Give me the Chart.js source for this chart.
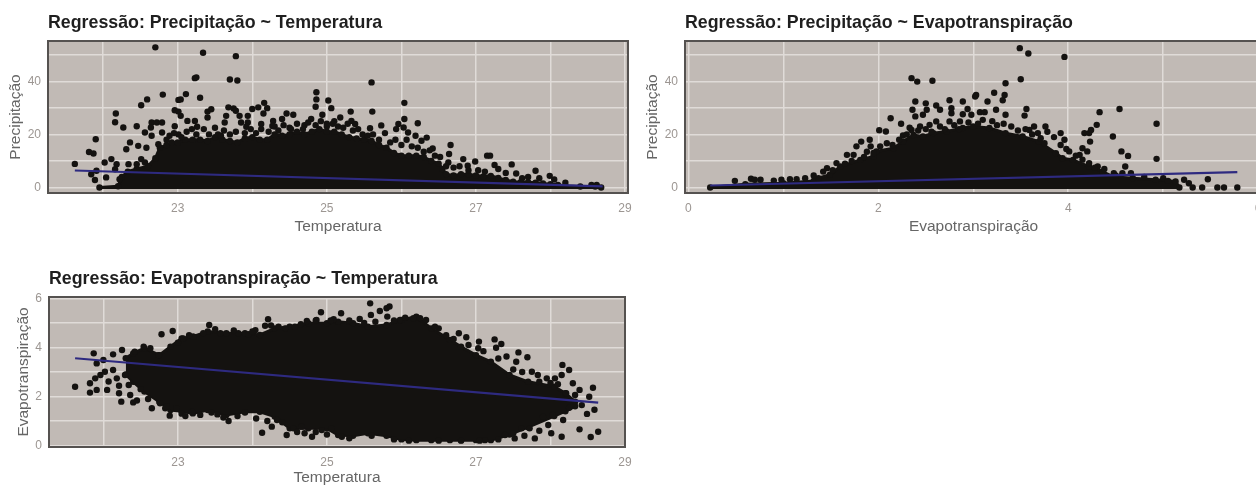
<!DOCTYPE html>
<html lang="pt">
<head>
    <meta charset="UTF-8">
    <title>Regressões</title>
    <script src="https://cdn.jsdelivr.net/npm/chart.js"></script>
    <style>
        html, body { margin: 0; background: #fff; overflow: hidden; width: 1256px; height: 487px; }
        .painel { position: absolute; filter: blur(0.45px); }
    </style>
</head>
<body>
    <div class="painel" style="left:0;top:0;width:640px;height:236px"><canvas id="precipTemp"></canvas></div>
    <div class="painel" style="left:640px;top:0;width:640px;height:236px"><canvas id="precipEvap"></canvas></div>
    <div class="painel" style="left:0;top:256px;width:640px;height:231px"><canvas id="evapTemp"></canvas></div>
    <script>
        // eixos
        const tempTicks = [22, 23, 24, 25, 26, 27, 28, 29];
        const tempLabels = [23, 25, 27, 29];
        const evapTicks = [0, 1, 2, 3, 4, 5, 6];
        const evapLabels = [0, 2, 4, 6];
        const precipTicks = [0, 10, 20, 30, 40, 50];
        const precipLabels = [0, 20, 40];
        const evapYTicks = [0, 1, 2, 3, 4, 5, 6];
        const evapYLabels = [0, 2, 4, 6];

        // Precipitação ~ Temperatura: pontos soltos
        const pt_x = [22.70,23.34,23.78,23.23,23.25,23.70,23.80,22.80,23.11,23.30,23.01,23.04,22.59,22.51,22.17,22.16,22.27,22.45,21.90,21.81,21.87,21.62,22.96,23.01,23.04,23.40,23.45,23.40,23.13,23.23,23.26,22.96,22.65,22.72,22.79,22.64,22.56,22.65,23.68,23.75,23.65,23.63,23.78,23.83,23.85,23.94,23.94,23.92,24.00,24.08,24.16,24.20,24.15,24.28,24.12,24.46,24.55,24.40,24.86,24.86,24.85,25.02,25.06,24.94,24.79,25.18,25.60,26.04,25.32,25.61,26.04,26.22,25.58,25.73,25.96,25.93,26.03,25.33,25.38,26.09,26.19,26.34,26.27,26.66,26.64,26.42,27.15,27.19,26.99,27.48,27.54,27.80,27.99,26.83,26.63,26.89,27.25,21.84,21.91,21.89,22.04,22.02,22.11,22.18,22.16,22.22,22.34,22.45,22.51,22.56,22.31,22.36,22.47,22.58,22.74,22.79,22.89,23.01,23.19,23.54,24.30,24.50,24.70,25.00,25.10,
            22.85,22.95,23.05,23.12,23.25,23.35,23.42,23.50,23.58,23.62,23.70,23.78,23.90,23.98,24.05,24.12,24.22,24.27,24.35,24.42,24.52,24.60,24.68,24.75,24.85,24.92,25.00,25.08,25.15,25.22,25.28,25.35,25.42,25.48,25.55,25.62,25.70,25.78,25.85,25.92,26.00,26.07,26.14,26.22,26.30,26.38,26.45,26.52,26.60,26.70,26.78,26.90,27.03,27.12,27.30,27.40,27.62,27.70,27.85,28.05,28.20,28.55,28.62];
        const pt_y = [52.8,50.8,49.5,41.2,41.5,40.7,40.3,35.0,35.2,33.8,33.0,33.2,33.2,31.0,27.9,24.6,22.6,23.1,18.2,13.4,12.8,8.9,29.1,28.6,27.0,28.6,29.5,26.4,25.1,25.1,22.9,23.1,24.5,24.5,24.5,22.6,20.7,19.5,30.2,29.8,27.0,24.5,28.9,27.0,24.5,27.0,24.5,22.9,29.6,30.2,31.9,29.9,27.9,25.1,23.9,27.9,27.4,25.8,35.9,33.2,30.4,32.8,29.9,27.4,25.8,26.4,39.6,31.9,28.6,28.6,25.8,24.2,22.3,23.4,23.9,22.0,22.6,25.1,23.9,20.7,19.5,18.8,17.6,16.0,12.6,14.7,12.0,12.0,9.8,8.7,5.3,6.3,4.4,10.7,9.4,8.2,8.5,5.0,6.3,2.8,3.8,9.4,10.7,8.8,6.9,3.1,8.8,8.8,10.7,9.4,14.4,17.0,15.7,15.0,16.3,20.7,19.5,20.0,22.0,20.0,23.0,22.5,23.5,24.0,25.0,
            18,20.5,19,21,20,22,20,22.5,19.5,21.5,20,21,20.5,22,20.5,22,21,23.2,21.5,23.5,22,24,22,24.5,23.5,25,23,24,23,22.5,24,21.5,22,20,19.5,20,18,20.5,17,18,16,18,15.5,15,13.5,14,12,11.5,8,7.5,8,6.5,6.5,6,7,5.5,3.5,4,3.5,3,1.8,1,1];
        // parte densa da nuvem: contorno superior
        const ptNuvem_x = [21.95,22.20,22.25,22.33,22.45,22.60,22.70,22.76,22.85,22.92,23.00,23.10,23.20,23.30,23.40,23.50,23.60,23.70,23.80,23.90,24.00,24.10,24.20,24.30,24.40,24.50,24.60,24.70,24.80,24.90,25.00,25.10,25.20,25.30,25.40,25.50,25.60,25.70,25.80,25.90,26.00,26.10,26.20,26.30,26.40,26.50,26.55,26.60,26.70,26.80,26.90,27.00,27.10,27.20,27.30,27.40,27.50,27.60,27.70,27.80,27.90,28.00,28.10,28.20,28.40,28.60,28.68];
        const ptNuvem_y = [0,0.5,4,6,7,8,11,15,16,17,17,18,18,18,17.5,19,18,17.5,17,18.5,19,18,18,20,19.5,20,21,20,21,22,21,21,20,19,18.5,18,17.5,16,15,13,12,12,12,11.5,10,9,7,5,4.5,5,5,4.5,4.2,4.4,3.6,2.8,2.2,2,2,1.8,1.5,1.2,1,0.6,0.4,0.4,0];
        const ptReta_x = [21.62, 28.70];
        const ptReta_y = [6.4, 0.4];

        // Precipitação ~ Evapotranspiração
        const pe_x = [2.35,2.41,2.57,2.39,2.50,2.61,2.75,2.89,3.02,3.03,2.36,2.39,2.47,2.51,2.65,2.77,2.77,2.94,2.98,2.89,2.13,2.24,2.01,2.08,1.91,1.92,1.82,1.77,1.67,1.74,2.09,2.02,2.26,2.61,2.54,2.75,2.86,2.44,2.35,1.46,1.42,1.56,0.49,0.66,0.70,0.76,0.90,0.98,1.07,1.14,1.23,1.32,3.49,3.58,3.96,3.50,3.34,3.22,3.33,3.31,3.15,3.56,3.54,3.07,3.12,3.24,3.34,4.33,4.54,4.30,4.93,4.47,4.56,4.63,4.93,4.60,4.22,4.17,4.24,4.23,4.15,4.20,3.92,3.96,3.76,3.64,3.59,3.71,3.75,4.01,4.12,4.22,4.31,4.48,4.57,4.66,5.22,5.27,5.31,5.41,5.47,5.57,5.64,5.78,
            2.15,2.22,2.30,2.33,2.42,2.50,2.56,2.65,2.70,2.80,2.85,2.95,3.05,3.10,3.20,3.25,3.32,3.40,3.47,3.55,3.62,3.68,3.78,3.85,3.92,3.98,4.08,4.15,4.28,4.38,4.50,4.80,5.00,5.05,1.85,1.72,1.65,1.52,1.95,1.88];
        const pe_y = [41.2,39.9,40.2,32.4,31.7,30.9,32.9,32.4,34.3,34.9,29.3,26.8,27.4,29.3,29.3,29.9,28.0,29.6,27.4,27.6,26.1,24.0,21.6,21.1,18.0,15.5,17.3,15.5,12.3,12.3,16.7,15.5,19.6,24.9,23.6,24.9,24.9,23.0,21.7,7.3,6.0,9.2,2.5,3.3,2.9,2.9,2.6,2.9,3.1,3.1,3.5,4.5,52.5,50.5,49.2,40.8,39.3,35.7,34.9,32.9,32.4,29.6,27.1,28.4,28.4,29.3,27.4,28.4,29.6,23.6,24.0,19.2,13.6,11.9,10.8,7.9,20.5,20.5,21.7,17.3,14.8,13.6,20.5,18.0,23.0,23.0,21.7,18.6,16.7,13.6,12.3,9.2,7.9,5.4,5.4,5.4,2.9,1.6,0,0,3.1,0,0,0,
            16,18,20,22.5,21.5,22,21,23,22,23.5,22,24.5,24,25.5,25,23.5,24,23,21.5,22,20,20.5,21,19,16,14.5,12,10.5,7.5,7,4.5,4,3.5,2.5,11.5,10,9,6.5,13,13.5];
        const peNuvem_x = [0.23,0.60,1.00,1.32,1.37,1.49,1.60,1.81,1.95,1.98,2.16,2.26,2.37,2.47,2.58,2.72,2.89,3.00,3.17,3.34,3.52,3.69,3.87,3.94,4.05,4.22,4.36,4.47,4.68,4.92,5.13,5.17];
        const peNuvem_y = [0,1.2,1.6,2.5,3.5,4.8,7.9,10.4,11.7,13.6,14.8,17.3,19.8,19.2,20.5,21.1,22.4,23.0,22.4,20.5,19.2,17.3,12.9,11.0,10.4,7.9,6.0,4.1,3.5,2.9,2.3,0];
        const peReta_x = [0.23, 5.78];
        const peReta_y = [0.75, 5.8];

        // Evapotranspiração ~ Temperatura
        const et_x = [21.62,21.87,21.91,22.00,22.13,22.25,22.78,22.93,23.42,24.21,24.17,24.04,24.92,24.86,25.19,25.09,24.73,21.89,21.82,21.82,21.91,22.05,21.96,22.07,22.13,22.18,22.21,22.21,22.24,22.36,22.40,22.45,22.65,22.29,22.34,22.02,22.76,22.83,22.89,22.98,23.19,23.53,23.61,23.68,23.90,24.13,24.26,24.33,24.46,24.55,24.66,24.80,24.93,25.06,25.20,22.42,22.54,22.63,22.74,23.07,23.21,23.34,23.57,23.81,23.95,24.44,24.57,25.58,25.84,25.80,25.71,25.59,25.44,25.81,26.33,26.16,25.98,26.50,26.77,26.87,27.04,27.25,27.34,27.27,27.03,27.57,27.69,27.54,27.41,28.16,28.25,28.15,27.75,27.83,27.95,28.06,28.30,28.39,28.57,28.52,28.33,28.21,28.59,28.49,28.42,28.25,28.03,27.90,27.97,28.17,28.39,28.64,28.54,28.01,28.15,27.79,27.52,27.72,27.12,27.39,27.61,
            22.50,22.60,22.85,23.05,23.10,23.30,23.45,23.80,24.05,24.20,24.40,24.60,24.70,24.85,25.00,25.30,25.60,25.90,26.10,26.50,26.80,27.05,27.30,27.50,27.65,27.85,23.00,23.15,23.50,23.75,24.00,24.25,24.35,24.65,24.85,25.05,25.30,25.50,25.65,25.90,26.05,26.25,26.45,26.60,26.70,26.90,27.10,27.30,27.50,27.62,27.85,28.00,28.10];
        const et_y = [2.40,3.76,3.35,3.49,3.72,3.90,4.54,4.67,4.92,5.15,4.89,4.71,5.44,5.12,5.40,5.15,5.08,2.74,2.54,2.16,2.27,2.27,2.88,2.61,3.08,2.74,2.44,2.13,1.79,2.06,1.76,1.84,1.52,2.88,2.47,3.01,1.72,1.52,1.22,1.52,1.38,1.27,1.14,1.00,1.35,0.52,0.77,1.04,0.43,0.70,0.77,0.36,0.63,0.70,0.36,3.83,4.03,3.97,3.69,4.37,4.44,4.58,4.58,4.58,4.54,4.78,4.85,5.80,5.67,5.60,5.49,5.33,5.16,5.26,5.12,5.19,5.12,4.78,4.58,4.42,4.24,4.33,4.14,3.99,3.97,3.80,3.60,3.42,3.63,3.29,3.08,2.88,3.01,2.88,2.74,2.74,2.54,2.27,2.36,1.99,2.06,2.13,1.46,1.29,1.65,1.54,1.25,1.18,0.84,1.04,0.66,0.56,0.35,0.50,0.36,0.29,0.29,0.70,0.22,0.43,0.70,
            2.30,1.90,1.60,1.30,1.20,1.25,1.35,1.20,1.10,1.00,0.95,0.55,0.50,0.55,0.45,0.30,0.40,0.25,0.20,0.20,0.20,0.20,0.25,0.50,0.40,0.60,4.20,4.50,4.75,4.70,4.65,4.90,4.85,4.95,5.10,5.10,5.10,5.00,5.05,5.10,5.22,5.20,4.85,4.50,4.35,4.10,3.85,3.55,3.10,3.00,2.60,2.55,2.50];
        const etNuvem_x = [22.30,22.40,22.55,22.75,22.90,23.05,23.20,23.40,23.65,23.90,24.10,24.30,24.50,24.75,25.00,25.15,25.35,25.55,25.80,26.00,26.20,26.40,26.65,26.80,27.00,27.20,27.45,27.70,28.05,28.20,28.33];
        const etNuvem_topo = [3.56,3.76,3.97,3.69,4.03,4.37,4.44,4.65,4.58,4.58,4.51,4.78,4.85,4.99,4.99,5.05,4.99,4.85,4.92,5.12,5.26,4.78,4.31,4.03,3.69,3.42,2.88,2.60,2.40,2.13,1.79];
        const etNuvem_base = [2.90,2.60,2.20,1.79,1.45,1.40,1.31,1.45,1.25,1.38,1.38,1.18,0.70,0.70,0.70,0.43,0.40,0.50,0.40,0.25,0.22,0.22,0.22,0.22,0.22,0.22,0.45,0.75,1.20,1.40,1.60];
        const etReta_x = [21.62, 28.64];
        const etReta_y = [3.56, 1.75];

        const preto = '#141210';
        const azul = '#2e2a80';
        const grade = '#e0dbd8';
        const fonte = "'Liberation Sans', Arial, sans-serif";

        const pares = (xs, ys) => xs.map((x, i) => ({ x: x, y: ys[i] }));

        // fundo e moldura do painel
        const painelPlugin = {
            id: 'painel',
            beforeDraw(chart) {
                const a = chart.chartArea;
                chart.ctx.fillStyle = '#c1bab5';
                chart.ctx.fillRect(a.left, a.top, a.width, a.height);
            },
            afterDraw(chart) {
                const a = chart.chartArea;
                chart.ctx.strokeStyle = '#555250';
                chart.ctx.lineWidth = 2;
                chart.ctx.strokeRect(a.left, a.top, a.width, a.height);
            }
        };

        function eixoX(min, max, ticks, labels, titulo, altura) {
            return {
                type: 'linear', min: min, max: max,
                afterBuildTicks: (s) => { s.ticks = ticks.map(v => ({ value: v })); },
                afterFit: (s) => { s.height = altura; },
                grid: { color: grade, lineWidth: 1.5, drawTicks: false },
                border: { display: false },
                ticks: {
                    autoSkip: false, maxRotation: 0, padding: 8, color: '#9c9692', font: { family: fonte, size: 12 },
                    callback: (v) => labels.includes(v) ? v : ''
                },
                title: { display: true, text: titulo, color: '#666', font: { family: fonte, size: 15.5 }, padding: { top: 4, bottom: 0 } }
            };
        }

        function eixoY(min, max, ticks, labels, titulo, largura, padTitulo) {
            return {
                type: 'linear', min: min, max: max,
                afterBuildTicks: (s) => { s.ticks = ticks.map(v => ({ value: v })); },
                afterFit: (s) => { s.width = largura; },
                grid: { color: grade, lineWidth: 1.5, drawTicks: false },
                border: { display: false },
                ticks: {
                    autoSkip: false, padding: 7, color: '#9c9692', font: { family: fonte, size: 12 },
                    callback: (v) => labels.includes(v) ? v : ''
                },
                title: { display: true, text: titulo, color: '#666', font: { family: fonte, size: 15.5 }, padding: { top: padTitulo, bottom: 0 } }
            };
        }

        function conjuntoReta(xs, ys) {
            return { data: pares(xs, ys), showLine: true, borderColor: azul, borderWidth: 2.2, pointRadius: 0, fill: false };
        }
        function conjuntoPontos(xs, ys) {
            return { data: pares(xs, ys), backgroundColor: preto, borderWidth: 0, pointRadius: 3.2 };
        }
        function conjuntoNuvem(xs, ys, preenchimento) {
            return { data: pares(xs, ys), showLine: true, borderColor: preto, backgroundColor: preto, borderWidth: 3, pointRadius: 3.2, pointBackgroundColor: preto, pointBorderWidth: 0, fill: preenchimento };
        }

        function desenhar(id, titulo, conjuntos, x, y, direita) {
            new Chart(document.getElementById(id), {
                type: 'scatter',
                data: { datasets: conjuntos },
                plugins: [painelPlugin],
                options: {
                    responsive: true, maintainAspectRatio: false, animation: false,
                    layout: { padding: { right: direita } },
                    scales: { x: x, y: y },
                    plugins: {
                        legend: { display: false },
                        tooltip: { enabled: false },
                        title: {
                            display: true, text: titulo, align: 'start', fullSize: false, color: '#1f1f1f',
                            font: { family: fonte, size: 17.8, weight: 'bold', lineHeight: 1 },
                            padding: { top: 14, bottom: 9.2 }
                        }
                    }
                }
            });
        }

        desenhar('precipTemp', 'Regressão: Precipitação ~ Temperatura',
            [conjuntoReta(ptReta_x, ptReta_y), conjuntoPontos(pt_x, pt_y), conjuntoNuvem(ptNuvem_x, ptNuvem_y, { value: -0.6 })],
            eixoX(21.26, 29.04, tempTicks, tempLabels, 'Temperatura', 43),
            eixoY(-2.07, 55.2, precipTicks, precipLabels, 'Precipitação', 48, 6), 12);

        desenhar('precipEvap', 'Regressão: Precipitação ~ Evapotranspiração',
            [conjuntoReta(peReta_x, peReta_y), conjuntoPontos(pe_x, pe_y), conjuntoNuvem(peNuvem_x, peNuvem_y, { value: -0.6 })],
            eixoX(-0.035, 6.04, evapTicks, evapLabels, 'Evapotranspiração', 43),
            eixoY(-2.07, 55.2, precipTicks, precipLabels, 'Precipitação', 45, 3), 18);

        desenhar('evapTemp', 'Regressão: Evapotranspiração ~ Temperatura',
            [conjuntoReta(etReta_x, etReta_y), conjuntoPontos(et_x, et_y), conjuntoNuvem(etNuvem_x, etNuvem_topo, '+1'), conjuntoNuvem(etNuvem_x, etNuvem_base, false)],
            eixoX(21.27, 29.0, tempTicks, tempLabels, 'Temperatura', 40),
            eixoY(-0.06, 6.06, evapYTicks, evapYLabels, 'Evapotranspiração', 49, 14), 15);
    </script>
</body>
</html>
